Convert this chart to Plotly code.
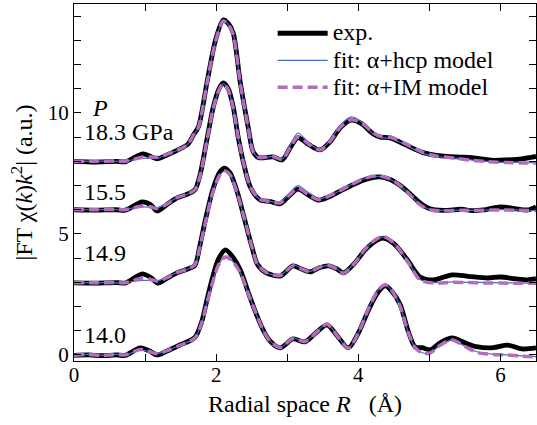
import plotly.graph_objects as go

# ---------------- data (values as plotted, offsets included) ----------------
pressure_labels = ["14.0", "14.9", "15.5", "18.3 GPa"]
series_names = ["exp.", "fit: α+hcp model", "fit: α+IM model"]

# 14.0 GPa
x_140 = [0.0, 0.2, 0.4, 0.6, 0.72, 0.93, 1.05, 1.17, 1.3, 1.49, 1.7, 1.8, 1.87, 1.95, 2.03, 2.13, 2.22,
         2.34, 2.45, 2.55, 2.65, 2.75, 2.9, 3.08, 3.25, 3.4, 3.56, 3.7, 3.86, 4.0, 4.15, 4.28, 4.38,
         4.48, 4.59, 4.7, 4.8, 4.9, 5.01, 5.15, 5.32, 5.5, 5.68, 5.9, 6.1, 6.3, 6.5]
exp_140 = [-0.02, 0.0, -0.03, 0.0, -0.02, 0.29, 0.18, 0.0, 0.15, 0.41, 0.72, 1.4, 2.27, 3.2, 3.95, 4.34, 4.1,
           3.51, 2.6, 1.8, 1.1, 0.6, 0.29, 0.66, 0.54, 0.9, 1.24, 0.8, 0.29, 0.9, 1.9, 2.6, 2.85,
           2.6, 2.07, 1.0, 0.33, 0.3, 0.21, 0.5, 0.7, 0.5, 0.33, 0.3, 0.41, 0.25, 0.29]
hcp_140 = [-0.02, 0.02, -0.02, 0.02, 0.0, 0.2, 0.15, 0.06, 0.17, 0.4, 0.7, 1.35, 2.15, 3.0, 3.7, 4.05, 3.9,
           3.4, 2.55, 1.8, 1.1, 0.6, 0.3, 0.7, 0.56, 0.92, 1.3, 0.8, 0.28, 0.9, 1.95, 2.68, 2.9,
           2.62, 2.0, 0.95, 0.3, 0.09, 0.09, 0.4, 0.62, 0.36, 0.12, 0.03, 0.0, -0.04, -0.07]
im_140 = [-0.02, 0.02, -0.02, 0.02, 0.0, 0.22, 0.15, 0.05, 0.17, 0.4, 0.7, 1.35, 2.15, 3.0, 3.7, 4.05, 3.9,
          3.4, 2.55, 1.8, 1.1, 0.6, 0.3, 0.68, 0.55, 0.9, 1.28, 0.8, 0.28, 0.9, 1.95, 2.68, 2.9,
          2.62, 2.0, 0.95, 0.3, 0.08, 0.08, 0.4, 0.62, 0.35, 0.1, 0.02, 0.0, -0.05, -0.08]

# 14.9 GPa
x_149 = [0.0, 0.3, 0.6, 0.72, 0.96, 1.08, 1.18, 1.3, 1.45, 1.6, 1.7, 1.77, 1.85, 1.95, 2.05, 2.12, 2.2,
         2.3, 2.4, 2.5, 2.58, 2.7, 2.9, 3.08, 3.2, 3.32, 3.45, 3.58, 3.7, 3.79, 3.95, 4.1, 4.25, 4.35,
         4.5, 4.69, 4.87, 5.06, 5.32, 5.55, 5.82, 6.0, 6.2, 6.38, 6.5]
exp_149 = [2.98, 2.97, 2.99, 2.97, 3.35, 3.2, 2.97, 3.15, 3.39, 3.55, 3.7, 4.5, 5.6, 6.8, 7.55, 7.72, 7.5,
           6.7, 5.6, 4.5, 3.75, 3.4, 3.26, 3.68, 3.55, 3.43, 3.6, 3.68, 3.55, 3.39, 3.8, 4.35, 4.72, 4.83,
           4.6, 3.93, 3.22, 3.1, 3.31, 3.25, 3.18, 3.22, 3.15, 3.1, 3.15]
hcp_149 = [2.98, 2.99, 2.98, 3.0, 3.08, 3.08, 3.07, 3.2, 3.4, 3.55, 3.72, 4.45, 5.5, 6.7, 7.42, 7.6, 7.42,
           6.65, 5.6, 4.5, 3.75, 3.42, 3.28, 3.72, 3.58, 3.45, 3.62, 3.7, 3.55, 3.38, 3.8, 4.38, 4.78, 4.88,
           4.62, 3.9, 3.12, 2.99, 3.02, 3.0, 2.99, 2.98, 2.98, 2.97, 2.97]
im_149 = [2.98, 2.98, 2.99, 2.98, 3.18, 3.12, 3.05, 3.18, 3.4, 3.55, 3.72, 4.45, 5.5, 6.7, 7.42, 7.6, 7.42,
          6.65, 5.6, 4.5, 3.75, 3.42, 3.28, 3.68, 3.56, 3.44, 3.62, 3.7, 3.55, 3.38, 3.8, 4.38, 4.78, 4.9,
          4.62, 3.88, 3.1, 2.97, 3.0, 2.99, 2.97, 2.97, 2.96, 2.96, 2.96]

# 15.5 GPa
x_155 = [0.0, 0.3, 0.6, 0.72, 0.96, 1.08, 1.17, 1.3, 1.45, 1.6, 1.7, 1.77, 1.87, 1.96, 2.04, 2.1, 2.17,
         2.24, 2.31, 2.38, 2.48, 2.62, 2.76, 2.9, 3.02, 3.15, 3.3, 3.44, 3.6, 3.75, 3.89, 4.05, 4.2,
         4.3, 4.45, 4.59, 4.75, 4.87, 5.0, 5.2, 5.45, 5.6, 5.76, 6.0, 6.2, 6.38, 6.5]
exp_155 = [6.0, 5.98, 6.0, 5.98, 6.32, 6.2, 5.95, 6.2, 6.49, 6.65, 6.82, 7.4, 8.9, 10.25, 11.0, 11.24, 11.0,
           10.25, 9.0, 8.0, 6.94, 6.4, 6.34, 6.25, 6.55, 6.85, 6.6, 6.4, 6.55, 6.78, 6.98, 7.2, 7.33,
           7.36, 7.25, 7.0, 6.6, 6.28, 6.05, 5.97, 6.02, 5.96, 5.99, 6.12, 6.05, 5.99, 6.12]
hcp_155 = [6.0, 6.01, 6.0, 6.02, 6.12, 6.1, 6.08, 6.25, 6.5, 6.65, 6.82, 7.35, 8.85, 10.2, 10.95, 11.2, 10.95,
           10.2, 9.0, 8.0, 6.94, 6.42, 6.35, 6.3, 6.65, 7.0, 6.7, 6.45, 6.58, 6.8, 7.02, 7.25, 7.36,
           7.38, 7.25, 6.98, 6.55, 6.22, 6.02, 5.97, 5.98, 5.97, 5.98, 6.0, 5.99, 5.98, 5.98]
im_155 = [6.0, 6.0, 6.01, 6.0, 6.15, 6.12, 6.05, 6.22, 6.5, 6.65, 6.82, 7.35, 8.85, 10.2, 10.95, 11.2, 10.95,
          10.2, 9.0, 8.0, 6.94, 6.42, 6.35, 6.28, 6.58, 6.88, 6.62, 6.42, 6.58, 6.8, 7.02, 7.25, 7.38,
          7.4, 7.27, 7.0, 6.55, 6.2, 6.0, 5.96, 5.98, 5.97, 5.98, 5.99, 5.98, 5.97, 5.97]

# 18.3 GPa
x_183 = [0.0, 0.3, 0.6, 0.72, 0.97, 1.08, 1.17, 1.3, 1.45, 1.6, 1.68, 1.75, 1.87, 1.99, 2.1, 2.17, 2.24,
         2.34, 2.45, 2.52, 2.6, 2.8, 2.93, 3.05, 3.15, 3.3, 3.46, 3.6, 3.75, 3.9, 4.05, 4.2, 4.31,
         4.45, 4.65, 4.9, 5.1, 5.39, 5.6, 5.9, 6.1, 6.3, 6.5]
exp_183 = [8.0, 7.97, 8.0, 7.98, 8.31, 8.2, 8.1, 8.25, 8.45, 8.7, 9.09, 9.42, 11.24, 13.0, 13.84, 13.7, 13.3,
           11.24, 9.42, 8.4, 8.15, 8.18, 8.06, 8.6, 8.98, 8.7, 8.47, 8.8, 9.4, 9.7, 9.55, 9.15, 9.0,
           8.97, 8.7, 8.37, 8.25, 8.18, 8.15, 8.04, 8.06, 8.1, 8.2]
hcp_183 = [8.0, 8.01, 8.0, 8.02, 8.12, 8.12, 8.12, 8.28, 8.45, 8.7, 9.08, 9.4, 11.2, 12.95, 13.8, 13.66, 13.25,
           11.2, 9.4, 8.4, 8.16, 8.2, 8.1, 8.7, 9.17, 8.78, 8.48, 8.85, 9.5, 9.84, 9.62, 9.15, 8.98,
           8.95, 8.7, 8.33, 8.2, 8.12, 8.05, 7.98, 7.96, 7.95, 7.95]
im_183 = [8.0, 8.0, 8.01, 8.0, 8.18, 8.18, 8.17, 8.28, 8.45, 8.7, 9.08, 9.4, 11.2, 12.95, 13.8, 13.66, 13.25,
          11.2, 9.4, 8.4, 8.16, 8.2, 8.08, 8.62, 9.0, 8.72, 8.47, 8.82, 9.42, 9.72, 9.58, 9.2, 9.04,
          9.0, 8.75, 8.38, 8.22, 8.12, 8.04, 7.97, 7.95, 7.93, 7.93]

x_sets = [x_140, x_149, x_155, x_183]
exp_sets = [exp_140, exp_149, exp_155, exp_183]
hcp_sets = [hcp_140, hcp_149, hcp_155, hcp_183]
im_sets = [im_140, im_149, im_155, im_183]

# label positions (data coords)
label_x = [0.11, 0.11, 0.11, 0.11]
label_y = [0.83, 4.2, 6.74, 9.2]

FONT = "Liberation Serif"
BLUE = "#4a6bd4"
PURPLE = "#b46cbc"


def big(txt):
    return '<span style="font-size:24px">' + txt + '</span>'


fig = go.Figure()
for i in range(4):
    first = (i == 0)
    fig.add_trace(go.Scatter(x=x_sets[i], y=exp_sets[i], mode="lines", name=big(series_names[0]),
                             line=dict(color="black", width=4.8, shape="spline", smoothing=0.8),
                             legendgroup="exp", showlegend=first))
for i in range(4):
    first = (i == 0)
    fig.add_trace(go.Scatter(x=x_sets[i], y=hcp_sets[i], mode="lines", name=big(series_names[1]),
                             line=dict(color=BLUE, width=1.2, shape="spline", smoothing=0.8),
                             legendgroup="hcp", showlegend=first))
for i in range(4):
    first = (i == 0)
    fig.add_trace(go.Scatter(x=x_sets[i], y=im_sets[i], mode="lines", name=big(series_names[2]),
                             line=dict(color=PURPLE, width=3.5, dash="10px,5px", shape="spline", smoothing=0.8),
                             legendgroup="im", showlegend=first))

for lx, ly, txt in zip(label_x, label_y, pressure_labels):
    fig.add_annotation(x=lx, y=ly, text=txt, showarrow=False, xanchor="left", yanchor="middle",
                       font=dict(family=FONT, size=24, color="black"))
fig.add_annotation(x=0.37, y=10.2, text="<i>P</i>", showarrow=False, xanchor="center", yanchor="middle",
                   font=dict(family=FONT, size=24, color="black"))

axis_common = dict(showline=True, linecolor="black", linewidth=1, mirror="ticks", ticks="inside",
                   ticklen=7, tickcolor="black", showgrid=False, zeroline=False,
                   tickfont=dict(family=FONT, size=21, color="black"))

fig.update_xaxes(range=[0, 6.5], tickvals=[0, 2, 4, 6], ticklabelstandoff=-5,
                 minor=dict(dtick=1, ticks="inside", ticklen=7, tickcolor="black", showgrid=False),
                 title=dict(text="Radial space <i>R</i>   (Å)", font=dict(family=FONT, size=24, color="black"),
                            standoff=8),
                 **axis_common)
fig.update_yaxes(range=[-0.25, 14.5], tickvals=[0, 5, 10],
                 minor=dict(dtick=1, ticks="inside", ticklen=7, tickcolor="black", showgrid=False),
                 title=dict(text="|FT χ(<i>k</i>)<i>k</i><sup>2</sup>| (a.u.)",
                            font=dict(family=FONT, size=24, color="black"), standoff=8),
                 **axis_common)

fig.update_layout(
    width=537, height=425,
    margin=dict(l=74, r=1, t=4, b=64),
    plot_bgcolor="white", paper_bgcolor="white",
    font=dict(family=FONT, size=22, color="black"),
    legend=dict(x=0.43, y=0.97, xanchor="left", yanchor="top", bgcolor="rgba(0,0,0,0)",
                font=dict(family=FONT, size=18.5, color="black"), tracegroupgap=0,
                itemwidth=50),
    showlegend=True,
)

fig.write_html("out.html", config={"displayModeBar": False},
               post_script="document.body.style.margin='0';document.body.style.overflow='hidden';")
